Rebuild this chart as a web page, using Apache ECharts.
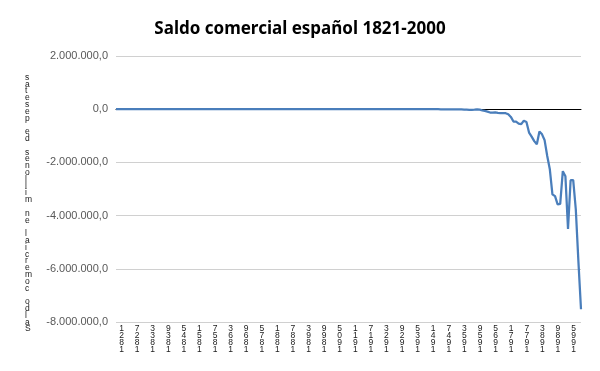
<!DOCTYPE html>
<html>
<head>
<meta charset="utf-8">
<script src="https://cdn.jsdelivr.net/npm/echarts@6/dist/echarts.min.js"></script>
<style>html,body{margin:0;padding:0;background:#fff}#c{width:600px;height:371px}</style>
</head>
<body>
<div id="c"></div>
<script>
// Trade balance (millones de pesetas); early years are near zero at this scale
var saldo1821_1860 = [-12, -8, -15, -10, -9, -14, -11, -18, -16, -13,
  -20, -17, -22, -19, -25, -21, -18, -24, -27, -23,
  -30, -26, -28, -35, -32, -38, -41, -36, -44, -48,
  -52, -45, -58, -63, -55, -70, -66, -74, -81, -77];
var saldo1861_1900 = [-85, -92, -78, -96, -88, -104, -99, -112, -95, -108,
  -87, -76, -64, -70, -58, -82, -45, -30, -52, -28,
  -40, -25, -36, -48, -31, -22, -39, -54, -42, -60,
  -75, -68, -50, -43, -57, -35, -29, -46, -110, -95];
var saldo1901_1935 = [-120, -105, -98, -130, -115, -92, -88, -140, -125, -150,
  -135, -160, -175, -190, -40, 210, 350, 280, 120, -180,
  -650, -720, -810, -690, -760, -840, -710, -880, -920, -780,
  -560, -430, -380, -420, -460];
var saldo1936_1959 = [-500, -300, -250, -400, -900, -1100, -1300, -1200, -1000, -1500,
  -2800, -3500, -2400, -2100, -1900, -3200, -5600, -8900, -11200, -14500,
  -16800, -22400, -25600, -18700];
var saldo1960_2000 = [-8000, -18000, -42000, -65000, -92000, -125000, -126000, -118000, -135000, -150000,
  -145000, -150000, -190000, -290000, -465000, -470000, -540000, -560000, -430000, -480000,
  -880000, -1030000, -1200000, -1320000, -840000, -945000, -1170000, -1760000, -2260000, -3200000,
  -3270000, -3580000, -3560000, -2330000, -2520000, -4500000, -2670000, -2670000, -3770000, -5720000,
  -7520000];
var firstYear = 1821, lastYear = 2000;
var titleText = 'Saldo comercial español 1821-2000';
var yTitleText = 'Saldo comercial en millones de pesetas';

var saldo = [].concat(saldo1821_1860, saldo1861_1900, saldo1901_1935, saldo1936_1959, saldo1960_2000);
var years = [];
for (var y = firstYear; y <= lastYear; y++) years.push(String(y));

function fmt(v) {
  var s = Math.abs(v).toFixed(0).replace(/\B(?=(\d{3})+(?!\d))/g, '.');
  return (v < 0 ? '-' : '') + s + ',0';
}
function stack(s) { return s.split('').reverse().join('\n'); }

var chart = echarts.init(document.getElementById('c'), null, {renderer: 'canvas'});
chart.setOption({
  animation: false,
  backgroundColor: '#ffffff',
  title: {
    text: titleText, left: 'center', top: 16,
    textStyle: {fontFamily: 'Noto Sans', fontWeight: 'bold', fontSize: 17, color: '#000000'}
  },
  graphic: [{
    type: 'text', left: 25, top: 73,
    style: {text: stack(yTitleText), fontFamily: 'Liberation Sans', fontSize: 8.5, lineHeight: 6.8, fill: '#202020', align: 'center'}
  }],
  grid: {left: 116, right: 19, top: 56, bottom: 49, containLabel: false},
  xAxis: [{
    type: 'category', data: years, boundaryGap: false, position: 'bottom',
    axisLine: {show: false}, axisTick: {show: false},
    axisLabel: {interval: 5, formatter: stack, fontFamily: 'Liberation Sans', fontSize: 8.5, lineHeight: 7,
      color: '#202020', margin: 3, padding: [0, 0, 0, 11], verticalAlign: 'top',
      showMinLabel: true, hideOverlap: false},
    splitLine: {show: false}
  }, {
    type: 'category', data: years, boundaryGap: false, position: 'bottom',
    axisLine: {show: true, onZero: true, onZeroAxisIndex: 0, lineStyle: {color: '#000000', width: 1}},
    axisTick: {show: false}, axisLabel: {show: false}, splitLine: {show: false}
  }],
  yAxis: {
    type: 'value', min: -8000000, max: 2000000, interval: 2000000,
    axisLine: {show: false}, axisTick: {show: false},
    axisLabel: {formatter: fmt, fontFamily: 'Liberation Sans', fontSize: 11, color: '#595959', margin: 8},
    splitLine: {lineStyle: {color: '#d0d0d0', width: 1}}
  },
  series: [{
    type: 'line', data: saldo, xAxisIndex: 0, showSymbol: false, symbol: 'none',
    lineStyle: {color: '#4a7ebb', width: 2.25}, z: 3
  }]
});
</script>
</body>
</html>
